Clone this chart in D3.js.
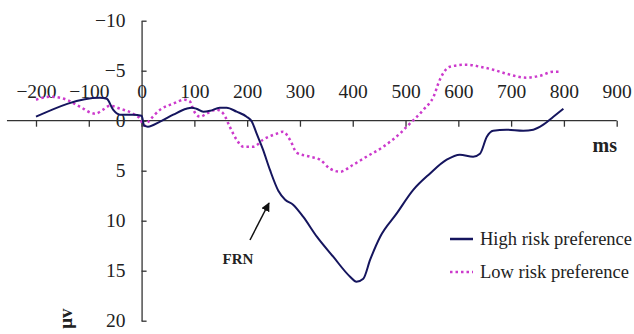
<!DOCTYPE html>
<html>
<head>
<meta charset="utf-8">
<script src="https://cdn.jsdelivr.net/npm/d3@7"></script>
<style>
  body { margin: 0; background: #fff; }
  text { font-family: "Liberation Serif", "DejaVu Serif", serif; }
</style>
</head>
<body>
<div id="chart"></div>
<script>
// Time points (ms) and amplitudes (µV)
var highTime = [-200, -79, -66, -54, -41, -16, 0, 5, 12, 35, 60, 85, 95, 104, 117, 130, 148, 161, 180, 199, 209, 218, 230, 243, 259, 272, 287, 306, 332, 363, 395, 407, 420, 433, 452, 483, 515, 546, 578, 603, 628, 641, 654, 666, 691, 723, 742, 761, 780, 799];
var highAmp  = [-0.4, -2.3, -2.2, -1.1, -0.6, -0.6, -0.5, 0.5, 0.6, 0.1, -0.6, -1.2, -1.3, -1.2, -0.9, -1.0, -1.3, -1.3, -0.9, -0.4, 0.1, 1.3, 2.9, 4.9, 7.0, 7.9, 8.4, 9.6, 11.6, 13.6, 15.6, 16.1, 15.8, 13.9, 11.6, 9.3, 6.9, 5.3, 3.9, 3.4, 3.6, 3.3, 1.6, 1.0, 0.9, 1.0, 0.9, 0.4, -0.4, -1.2];

var lowTime = [-200, -174, -142, -117, -88, -73, -60, -41, -16, -3, 5, 16, 35, 60, 82, 92, 98, 111, 123, 142, 155, 167, 180, 193, 212, 230, 256, 268, 281, 294, 319, 338, 357, 376, 401, 426, 458, 489, 508, 534, 553, 565, 584, 616, 641, 666, 691, 729, 755, 780, 792];
var lowAmp  = [-2.1, -2.4, -2.1, -1.4, -0.7, -1.1, -1.5, -1.2, -0.7, -0.2, 0.5, -0.1, -1.1, -1.7, -2.1, -1.9, -1.1, -0.4, -0.7, -1.1, -0.7, 0.6, 1.9, 2.6, 2.6, 1.9, 1.3, 1.1, 1.9, 3.2, 3.6, 3.9, 4.8, 5.1, 4.4, 3.6, 2.6, 1.3, 0.3, -1.1, -2.4, -4.1, -5.4, -5.6, -5.4, -5.1, -4.7, -4.3, -4.5, -4.9, -4.9];

var xTicks = [-200, -100, 0, 100, 200, 300, 400, 500, 600, 700, 800, 900];
var yTicks = [-10, -5, 0, 5, 10, 15, 20];
var seriesNames = ["High risk preference", "Low risk preference"];

var svgWidth = 634;
var svgHeight = 334;

var svg = d3.select("#chart")
  .append("svg")
  .attr("width", svgWidth)
  .attr("height", svgHeight);

// scales: negative up, as usual for ERP plots
var x = d3.scaleLinear().domain([-200, 900]).range([36, 616.7]);
var y = d3.scaleLinear().domain([-10, 20]).range([20.7, 320.7]);

// y axis sits at 0 ms, ticks point right, labels far left
var yAxis = svg.append("g")
  .attr("transform", `translate(${x(0)},0)`)
  .call(d3.axisLeft(y).tickValues(yTicks).tickSize(-5).tickSizeOuter(0).tickPadding(16)
    .tickFormat(d => d < 0 ? "\u2212" + Math.abs(d) : d));
yAxis.select(".domain").attr("stroke", "#333").attr("stroke-width", 1.3);
yAxis.selectAll(".tick line").attr("stroke", "#333").attr("stroke-width", 1.3);
yAxis.selectAll("text").attr("font-size", 19.5).attr("fill", "#222")
  .style("font-family", "Liberation Serif");

// x axis sits at 0 µV, labels above the line
var xAxis = svg.append("g")
  .attr("transform", `translate(0,${y(0)})`)
  .call(d3.axisBottom(x).tickValues(xTicks).tickSize(6).tickSizeOuter(0)
    .tickFormat(d => d < 0 ? "\u2212" + Math.abs(d) : d));
xAxis.select(".domain").remove();
xAxis.append("line")
  .attr("x1", x(-255)).attr("x2", x(900))
  .attr("stroke", "#333").attr("stroke-width", 1.3);
xAxis.selectAll(".tick line").attr("stroke", "#333").attr("stroke-width", 1.3);
xAxis.selectAll("text").attr("y", -23).attr("dy", 0).attr("font-size", 19.5).attr("fill", "#222")
  .style("font-family", "Liberation Serif");

// lines
var line = d3.line()
  .x(d => x(d[0]))
  .y(d => y(d[1]))
  .curve(d3.curveMonotoneX);

var highData = highTime.map((t, i) => [t, highAmp[i]]);
var lowData = lowTime.map((t, i) => [t, lowAmp[i]]);

svg.append("path")
  .datum(lowData)
  .attr("d", line)
  .attr("fill", "none")
  .attr("stroke", "#cc3acc")
  .attr("stroke-width", 2.5)
  .attr("stroke-dasharray", "2.5,3");

svg.append("path")
  .datum(highData)
  .attr("d", line)
  .attr("fill", "none")
  .attr("stroke", "#15155e")
  .attr("stroke-width", 2);

// axis unit labels
svg.append("text")
  .attr("x", x(900) - 12)
  .attr("y", y(3.1))
  .attr("text-anchor", "middle")
  .attr("font-size", 20)
  .attr("font-weight", "bold")
  .attr("fill", "#222")
  .text("ms");

svg.append("text")
  .attr("transform", `translate(72,${y(19.8)}) rotate(-90)`)
  .attr("text-anchor", "middle")
  .attr("font-size", 19)
  .attr("font-weight", "bold")
  .attr("fill", "#222")
  .text("μv");

// FRN annotation
svg.append("defs").append("marker")
  .attr("id", "arrow")
  .attr("viewBox", "0 0 10 10")
  .attr("refX", 9).attr("refY", 5)
  .attr("markerWidth", 6).attr("markerHeight", 6)
  .attr("orient", "auto")
  .append("path")
  .attr("d", "M0,0 L10,5 L0,10 z")
  .attr("fill", "#111");

svg.append("line")
  .attr("x1", 250).attr("y1", 240)
  .attr("x2", 269).attr("y2", 203)
  .attr("stroke", "#111")
  .attr("stroke-width", 1.5)
  .attr("marker-end", "url(#arrow)");

svg.append("text")
  .attr("x", 238).attr("y", 264)
  .attr("text-anchor", "middle")
  .attr("font-size", 15)
  .attr("font-weight", "bold")
  .attr("fill", "#222")
  .text("FRN");

// legend
var legend = svg.append("g").attr("transform", "translate(450,239)");
var legendStyles = [
  { color: "#15155e", dash: null, width: 2.5 },
  { color: "#cc3acc", dash: "2.5,3", width: 2.5 }
];
seriesNames.forEach(function(name, i) {
  var row = legend.append("g").attr("transform", `translate(0,${i * 33})`);
  row.append("line")
    .attr("x1", 0).attr("x2", 23)
    .attr("stroke", legendStyles[i].color)
    .attr("stroke-width", legendStyles[i].width)
    .attr("stroke-dasharray", legendStyles[i].dash);
  row.append("text")
    .attr("x", 30).attr("y", 6)
    .attr("font-size", 18.5)
    .attr("fill", "#222")
    .text(name);
});
</script>
</body>
</html>
